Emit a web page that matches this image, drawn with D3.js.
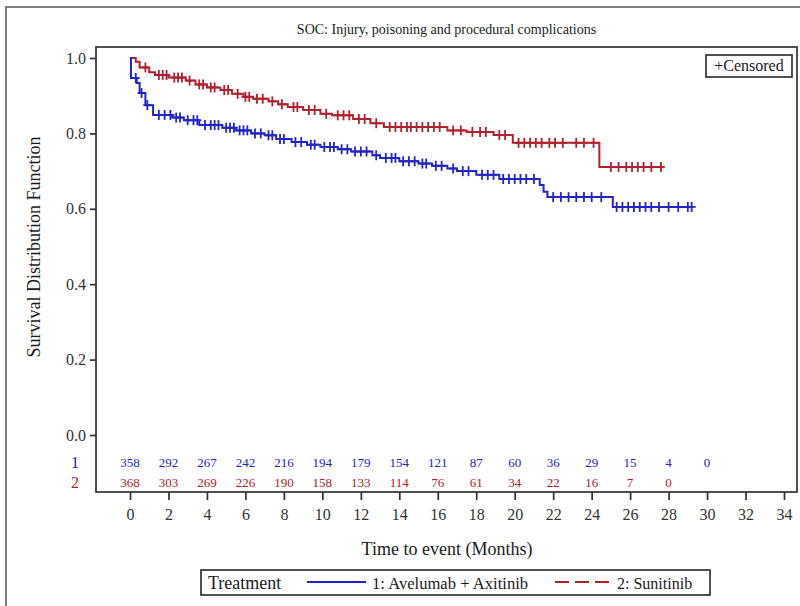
<!DOCTYPE html>
<html><head><meta charset="utf-8">
<script src="https://cdn.jsdelivr.net/npm/d3@7"></script>
<style>body{margin:0;background:#fff}svg{display:block}</style>
</head><body><svg id="c" width="800" height="606"></svg>
<script>
const title = "SOC: Injury, poisoning and procedural complications";
const xTicks = [0,2,4,6,8,10,12,14,16,18,20,22,24,26,28,30,32,34];
const yTicks = [0,0.2,0.4,0.6,0.8,1.0];
const seriesNames = ["1: Avelumab + Axitinib","2: Sunitinib"];
// Step change points (time, survival) and last time
const stepTimeA = [0,0.05,0.35,0.5,0.8,1.2,2.2,2.8,3.6,4.8,5.5,6.3,7.0,7.6,8.4,9.2,9.9,10.8,11.5,12.6,13.0,14.0,15.0,15.7,16.5,17.0,18.0,19.2,21.3,21.5,21.7,25.1];
const stepSurvA = [1.0,0.947,0.934,0.907,0.875,0.849,0.842,0.835,0.822,0.815,0.808,0.80,0.795,0.785,0.777,0.77,0.764,0.758,0.752,0.742,0.735,0.726,0.72,0.714,0.707,0.70,0.69,0.679,0.663,0.645,0.631,0.605];
const endA = 29.25;
const censA = [0.3,0.6,0.9,1.5,1.8,2.1,2.4,2.6,3.0,3.3,3.5,3.9,4.2,4.4,4.6,5.0,5.2,5.4,5.7,5.9,6.1,6.5,6.8,7.2,7.4,7.8,8.0,8.6,8.9,9.4,9.6,10.1,10.4,10.6,11.0,11.3,11.7,12.0,12.3,12.8,13.3,13.6,13.8,14.2,14.5,14.8,15.2,15.4,15.9,16.2,16.8,17.3,17.6,18.3,18.6,18.9,19.4,19.7,20.0,20.3,20.6,21.0,22.0,22.4,22.8,23.2,23.6,24.0,24.5,25.3,25.6,25.9,26.2,26.5,26.8,27.1,27.5,28.0,28.5,29.0,29.2];
const stepTimeB = [0,0.3,0.5,1.0,1.3,2.0,2.9,3.4,4.0,4.7,5.3,5.9,6.4,7.2,7.7,8.2,9.0,9.9,10.5,11.6,12.5,13.2,16.5,17.5,18.9,19.9,24.4];
const stepSurvB = [1.0,0.99,0.975,0.962,0.955,0.948,0.94,0.93,0.922,0.915,0.905,0.897,0.892,0.885,0.877,0.87,0.862,0.852,0.848,0.838,0.827,0.817,0.808,0.804,0.796,0.775,0.711];
const endB = 27.7;
const censB = [0.8,1.5,1.7,1.9,2.3,2.5,2.7,3.1,3.6,3.8,4.2,4.4,4.9,5.1,5.6,6.0,6.2,6.6,6.9,7.4,7.9,8.5,8.7,9.3,9.6,10.2,10.8,11.1,11.4,11.9,12.2,12.8,13.5,13.8,14.1,14.4,14.6,14.9,15.2,15.5,15.8,16.1,16.8,17.2,17.8,18.2,18.5,19.2,19.5,20.2,20.5,20.8,21.1,21.4,21.8,22.1,22.5,23.2,23.6,24.1,25.0,25.4,25.8,26.1,26.4,26.7,27.1,27.6];
const riskTimes = [0,2,4,6,8,10,12,14,16,18,20,22,24,26,28,30];
const riskA = [358,292,267,242,216,194,179,154,121,87,60,36,29,15,4,0];
const riskB = [368,303,269,226,190,158,133,114,76,61,34,22,16,7,0];

const FONT = '"Liberation Serif"';
const blue = "#2424c4", red = "#b0202e", ink = "#1a1a1a";
const svg = d3.select("#c");
svg.append("rect").attr("x",6).attr("y",7).attr("width",800).attr("height",610)
  .attr("fill","none").attr("stroke","#555").attr("stroke-width",1.5);

const L=96, R=797, T=47, B=492;
const x = d3.scaleLinear().domain([0,34]).range([130,784]);
const y = d3.scaleLinear().domain([0,1]).range([435,58]);

svg.append("rect").attr("x",L).attr("y",T).attr("width",R-L).attr("height",B-T)
  .attr("fill","none").attr("stroke","#333").attr("stroke-width",1.7);

function txt(sel){ return sel.style("font-family", FONT); }

txt(svg.append("text")).attr("x",(L+R)/2).attr("y",34).attr("text-anchor","middle")
  .attr("font-size",14).attr("fill",ink).text(title);

const ya = svg.append("g").attr("transform",`translate(${L},0)`)
  .call(d3.axisLeft(y).tickValues(yTicks).tickFormat(d3.format(".1f")).tickSize(6).tickSizeOuter(0).tickPadding(4));
ya.select(".domain").remove();
ya.selectAll("line").attr("stroke","#333").attr("stroke-width",1.7);
txt(ya.selectAll("text")).attr("font-size",16).attr("fill","#333");

const xa = svg.append("g").attr("transform",`translate(0,${B})`)
  .call(d3.axisBottom(x).tickValues(xTicks).tickSize(8).tickSizeOuter(0).tickPadding(9));
xa.select(".domain").remove();
xa.selectAll("line").attr("stroke","#333").attr("stroke-width",1.7);
txt(xa.selectAll("text")).attr("font-size",16).attr("fill","#333");

txt(svg.append("text")).attr("transform","translate(40,247) rotate(-90)").attr("text-anchor","middle")
  .attr("font-size",18).attr("fill",ink).text("Survival Distribution Function");
txt(svg.append("text")).attr("x",447).attr("y",555).attr("text-anchor","middle")
  .attr("font-size",18).attr("fill",ink).text("Time to event (Months)");

function stepPath(ts, ss, end){
  const pts=[];
  for(let i=0;i<ts.length;i++){
    if(i>0) pts.push([ts[i], ss[i-1]]);
    pts.push([ts[i], ss[i]]);
  }
  pts.push([end, ss[ss.length-1]]);
  return d3.line().x(d=>x(d[0])).y(d=>y(d[1]))(pts);
}
function survAt(ts, ss, t){
  let v=ss[0];
  for(let i=0;i<ts.length;i++){ if(ts[i]<=t) v=ss[i]; }
  return v;
}
function drawSeries(ts, ss, end, cens, col){
  svg.append("path").attr("d",stepPath(ts,ss,end)).attr("fill","none")
    .attr("stroke",col).attr("stroke-width",2);
  const g = svg.append("g").attr("stroke",col).attr("stroke-width",1.8);
  cens.forEach(t=>{
    const cx=x(t), cy=y(survAt(ts,ss,t));
    g.append("line").attr("x1",cx).attr("x2",cx).attr("y1",cy-5).attr("y2",cy+5);
    g.append("line").attr("x1",cx-4).attr("x2",cx+4).attr("y1",cy).attr("y2",cy);
  });
}
drawSeries(stepTimeB, stepSurvB, endB, censB, red);
drawSeries(stepTimeA, stepSurvA, endA, censA, blue);

svg.append("rect").attr("x",706).attr("y",55).attr("width",86).attr("height",22)
  .attr("fill","#fff").attr("stroke","#333").attr("stroke-width",1.7);
txt(svg.append("text")).attr("x",749).attr("y",71).attr("text-anchor","middle")
  .attr("font-size",16).attr("fill",ink).text("+Censored");

txt(svg.append("text")).attr("x",75).attr("y",468).attr("text-anchor","middle").attr("font-size",16).attr("fill",blue).text("1");
txt(svg.append("text")).attr("x",75).attr("y",488).attr("text-anchor","middle").attr("font-size",16).attr("fill",red).text("2");
txt(svg.append("g").selectAll("text").data(riskA).join("text"))
  .attr("x",(d,i)=>x(riskTimes[i])).attr("y",467).attr("text-anchor","middle")
  .attr("font-size",13).attr("fill",blue).text(d=>d);
txt(svg.append("g").selectAll("text").data(riskB).join("text"))
  .attr("x",(d,i)=>x(riskTimes[i])).attr("y",487).attr("text-anchor","middle")
  .attr("font-size",13).attr("fill",red).text(d=>d);

svg.append("rect").attr("x",201).attr("y",570).attr("width",509).attr("height",25)
  .attr("fill","#fff").attr("stroke","#333").attr("stroke-width",1.7);
txt(svg.append("text")).attr("x",208).attr("y",589).attr("font-size",18).attr("fill",ink).text("Treatment");
svg.append("line").attr("x1",307).attr("x2",366).attr("y1",582).attr("y2",582).attr("stroke",blue).attr("stroke-width",2);
txt(svg.append("text")).attr("x",372).attr("y",589).attr("font-size",16.6).attr("fill",ink).text(seriesNames[0]);
svg.append("line").attr("x1",555).attr("x2",609).attr("y1",582).attr("y2",582).attr("stroke",red).attr("stroke-width",2).attr("stroke-dasharray","14,6");
txt(svg.append("text")).attr("x",617).attr("y",589).attr("font-size",16).attr("fill",ink).text(seriesNames[1]);
</script></body></html>
